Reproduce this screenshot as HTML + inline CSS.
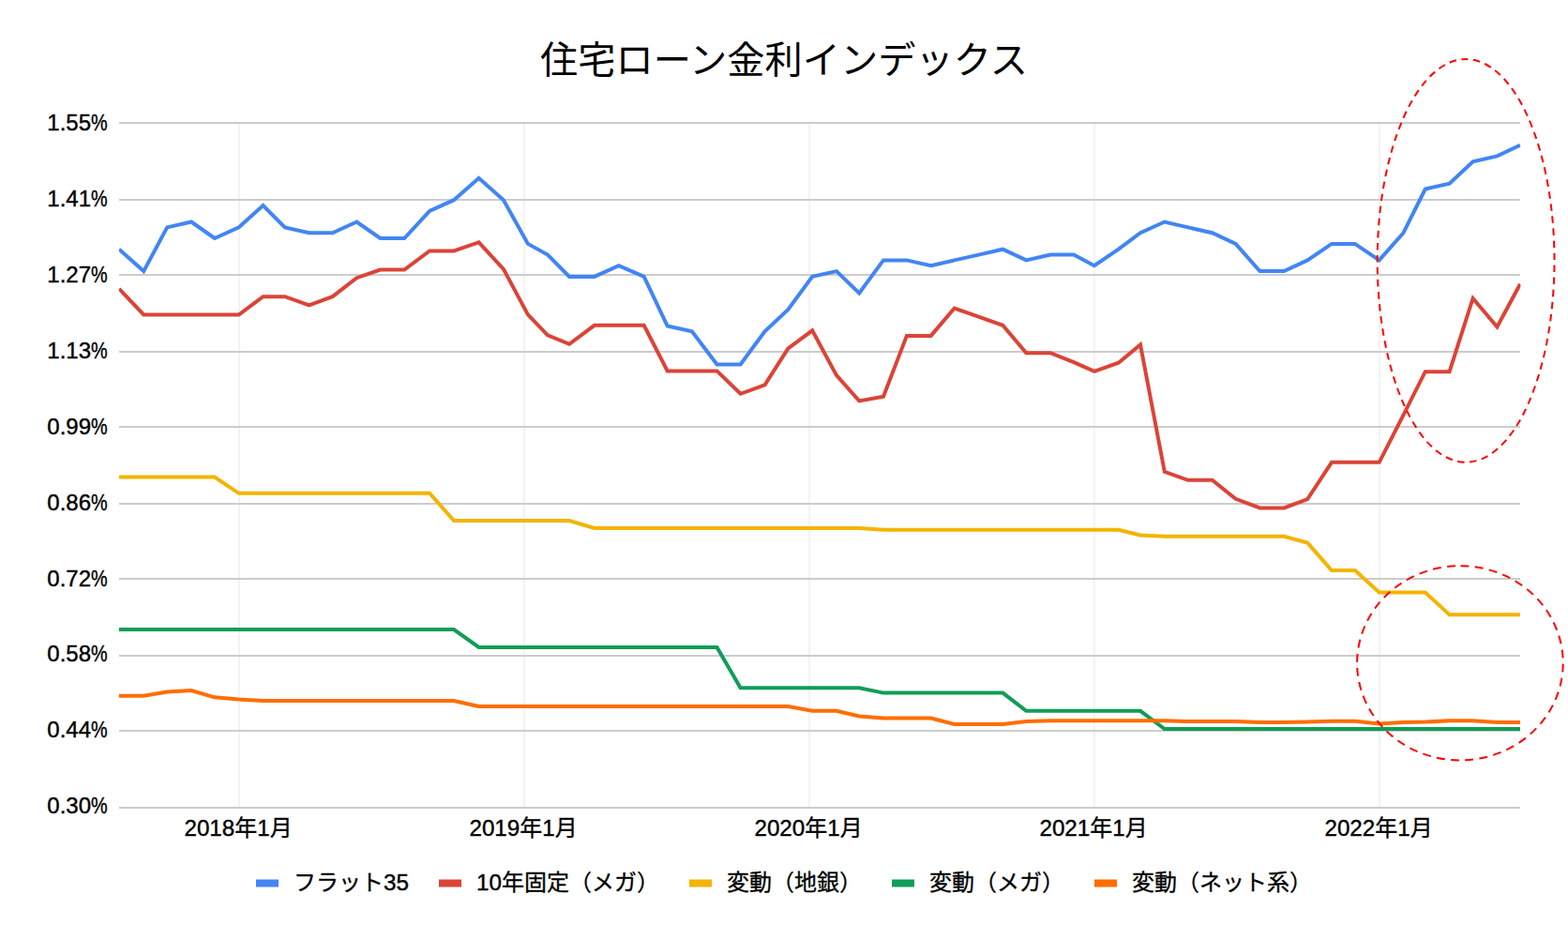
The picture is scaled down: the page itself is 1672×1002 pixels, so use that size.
<!DOCTYPE html>
<html lang="ja">
<head>
<meta charset="utf-8">
<title>住宅ローン金利インデックス</title>
<style>
html,body{margin:0;padding:0;background:#fff;}
body{width:1672px;height:1002px;overflow:hidden;font-family:"Liberation Sans",sans-serif;}
svg{display:block;}
.t{font-family:"Liberation Sans",sans-serif;font-size:24px;fill:#000;stroke:#000;stroke-width:0.4px;}
.j{font-family:"Liberation Sans","Noto Sans CJK JP",sans-serif;font-size:24px;fill:#000;stroke:#000;stroke-width:0.3px;}
.sr{position:absolute;left:0;top:0;width:1px;height:1px;overflow:hidden;clip:rect(0 0 0 0);white-space:nowrap;font-size:1px;color:transparent;}
</style>
</head>
<body>
<h1 class="sr">住宅ローン金利インデックス</h1>
<p class="sr">凡例: フラット35 / 10年固定（メガ） / 変動（地銀） / 変動（メガ） / 変動（ネット系）。 横軸: 2018年1月 – 2022年1月。</p>
<svg width="1672" height="1002" viewBox="0 0 1672 1002" role="img" aria-label="住宅ローン金利インデックス">
<defs>
<clipPath id="plot"><rect x="126.8" y="91" width="1494.6" height="810"/></clipPath>
</defs>
<rect width="1672" height="1002" fill="#ffffff"/>
<g fill="#f3f3f3">
<rect x="254" y="131" width="2" height="730"/>
<rect x="558" y="131" width="2" height="730"/>
<rect x="862" y="131" width="2" height="730"/>
<rect x="1166" y="131" width="2" height="730"/>
<rect x="1470" y="131" width="2" height="730"/>
</g>
<g fill="#cccccc">
<rect x="127" y="130" width="1494" height="2"/>
<rect x="127" y="212" width="1494" height="2"/>
<rect x="127" y="292" width="1494" height="2"/>
<rect x="127" y="374" width="1494" height="2"/>
<rect x="127" y="454" width="1494" height="2"/>
<rect x="127" y="536" width="1494" height="2"/>
<rect x="127" y="616" width="1494" height="2"/>
<rect x="127" y="698" width="1494" height="2"/>
<rect x="127" y="778" width="1494" height="2"/>
<rect x="127" y="860" width="1494" height="2"/>
</g>
<g fill="none" stroke-width="4" stroke-linejoin="miter" stroke-miterlimit="10" clip-path="url(#plot)">
<polyline stroke="#4285f4" points="127.0,265.7 153.2,289.1 178.2,242.4 204.0,236.5 228.9,254.0 254.7,242.4 280.5,219.0 303.8,242.4 329.6,248.2 354.6,248.2 380.4,236.5 405.4,254.0 431.2,254.0 458.1,224.8 484.0,213.2 510.6,189.8 536.9,213.2 562.9,259.9 584.0,271.6 607.1,294.9 633.8,294.9 659.8,283.2 686.7,294.9 711.7,347.5 737.9,353.3 764.5,388.4 789.6,388.4 815.5,353.3 840.4,330.0 866.2,294.9 892.0,289.1 916.2,312.4 942.0,277.4 966.9,277.4 992.7,283.2 1017.7,277.4 1043.5,271.6 1069.3,265.7 1094.3,277.4 1120.1,271.6 1145.0,271.6 1166.9,283.2 1192.7,265.7 1216.0,248.2 1241.8,236.5 1266.8,242.4 1292.6,248.2 1317.6,259.9 1343.4,289.1 1369.2,289.1 1394.2,277.4 1420.0,259.9 1444.9,259.9 1470.7,277.4 1496.5,248.2 1519.8,201.5 1545.6,195.6 1570.6,172.3 1596.4,166.4 1621.0,154.8"/>
<polyline stroke="#db4437" points="127.0,307.8 153.2,335.4 178.2,335.4 204.0,335.4 228.9,335.4 254.7,335.4 280.5,316.2 303.8,316.2 329.6,325.4 354.6,316.2 380.4,296.2 405.4,287.5 431.2,287.5 458.1,267.5 484.0,267.5 510.6,258.3 536.9,286.9 562.9,335.4 584.0,357.4 607.1,366.8 633.8,346.8 659.8,346.8 686.7,346.8 711.7,395.4 737.9,395.4 764.5,395.4 789.6,419.8 815.5,410.4 840.4,371.5 866.2,352.3 892.0,400.2 916.2,427.4 942.0,422.8 966.9,357.9 992.7,357.9 1017.7,328.5 1043.5,337.6 1069.3,346.8 1094.3,376.2 1120.1,376.2 1145.0,386.2 1166.9,395.8 1192.7,386.7 1216.0,367.5 1241.8,502.8 1266.8,511.8 1292.6,511.8 1317.6,531.8 1343.4,541.4 1369.2,541.4 1394.2,532.2 1420.0,492.8 1444.9,492.8 1470.7,492.8 1496.5,442.3 1519.8,396.2 1545.6,396.2 1570.6,318.0 1596.4,348.5 1621.0,302.8"/>
<polyline stroke="#f4b400" points="127.0,508.6 153.2,508.6 178.2,508.6 204.0,508.6 228.9,508.6 254.7,525.8 280.5,525.8 303.8,525.8 329.6,525.8 354.6,525.8 380.4,525.8 405.4,525.8 431.2,525.8 458.1,525.8 484.0,555.1 510.6,555.1 536.9,555.1 562.9,555.1 584.0,555.1 607.1,555.1 633.8,563.0 659.8,563.0 686.7,563.0 711.7,563.0 737.9,563.0 764.5,563.0 789.6,563.0 815.5,563.0 840.4,563.0 866.2,563.0 892.0,563.0 916.2,563.0 942.0,564.8 966.9,564.8 992.7,564.8 1017.7,564.8 1043.5,564.8 1069.3,564.8 1094.3,564.8 1120.1,564.8 1145.0,564.8 1166.9,564.8 1192.7,564.8 1216.0,570.5 1241.8,571.7 1266.8,571.7 1292.6,571.7 1317.6,571.7 1343.4,571.7 1369.2,571.7 1394.2,578.6 1420.0,608.1 1444.9,608.1 1470.7,631.5 1496.5,631.5 1519.8,631.5 1545.6,655.3 1570.6,655.3 1596.4,655.3 1621.0,655.3"/>
<polyline stroke="#0f9d58" points="127.0,671.0 153.2,671.0 178.2,671.0 204.0,671.0 228.9,671.0 254.7,671.0 280.5,671.0 303.8,671.0 329.6,671.0 354.6,671.0 380.4,671.0 405.4,671.0 431.2,671.0 458.1,671.0 484.0,671.0 510.6,689.9 536.9,689.9 562.9,689.9 584.0,689.9 607.1,689.9 633.8,689.9 659.8,689.9 686.7,689.9 711.7,689.9 737.9,689.9 764.5,689.9 789.6,733.3 815.5,733.3 840.4,733.3 866.2,733.3 892.0,733.3 916.2,733.3 942.0,738.6 966.9,738.6 992.7,738.6 1017.7,738.6 1043.5,738.6 1069.3,738.6 1094.3,757.8 1120.1,757.8 1145.0,757.8 1166.9,757.8 1192.7,757.8 1216.0,757.8 1241.8,777.1 1266.8,777.1 1292.6,777.1 1317.6,777.1 1343.4,777.1 1369.2,777.1 1394.2,777.1 1420.0,777.1 1444.9,777.1 1470.7,777.1 1496.5,777.1 1519.8,777.1 1545.6,777.1 1570.6,777.1 1596.4,777.1 1621.0,777.1"/>
<polyline stroke="#ff6d00" points="127.0,741.7 153.2,741.7 178.2,737.6 204.0,736.0 228.9,743.3 254.7,745.5 280.5,747.0 303.8,747.0 329.6,747.0 354.6,747.0 380.4,747.0 405.4,747.0 431.2,747.0 458.1,747.0 484.0,747.0 510.6,753.0 536.9,753.0 562.9,753.0 584.0,753.0 607.1,753.0 633.8,753.0 659.8,753.0 686.7,753.0 711.7,753.0 737.9,753.0 764.5,753.0 789.6,753.0 815.5,753.0 840.4,753.0 866.2,757.8 892.0,757.8 916.2,763.5 942.0,765.6 966.9,765.6 992.7,765.6 1017.7,772.1 1043.5,772.1 1069.3,772.1 1094.3,769.1 1120.1,768.2 1145.0,768.2 1166.9,768.2 1192.7,768.2 1216.0,768.2 1241.8,768.2 1266.8,769.1 1292.6,769.1 1317.6,769.1 1343.4,770.0 1369.2,770.0 1394.2,769.6 1420.0,768.7 1444.9,768.7 1470.7,771.4 1496.5,770.0 1519.8,769.6 1545.6,768.2 1570.6,768.2 1596.4,770.0 1621.0,770.0"/>
</g>
<path d="M1563.1,63.099999999999966 A94.4,214.8 0 0 1 1657.5,277.9 A94.4,214.8 0 0 1 1563.1,492.7 A94.4,214.8 0 0 1 1468.6999999999998,277.9 A94.4,214.8 0 0 1 1563.1,63.099999999999966Z" fill="none" stroke="#ff0000" stroke-width="2" stroke-dasharray="7.558 5.541" stroke-dashoffset="5.28"/>
<path d="M1556.9,603.1999999999999 A109.8,103.6 0 0 1 1666.7,706.8 A109.8,103.6 0 0 1 1556.9,810.4 A109.8,103.6 0 0 1 1447.1000000000001,706.8 A109.8,103.6 0 0 1 1556.9,603.1999999999999Z" fill="none" stroke="#ff0000" stroke-width="2" stroke-dasharray="8.885 6.355" stroke-dashoffset="14.56"/>
<g opacity="0.999">
<text class="t" text-anchor="end" x="97.0" y="139.0">1.55</text><text class="t" x="97.0" y="139.0" textLength="17.6" lengthAdjust="spacingAndGlyphs">%</text>
<text class="t" text-anchor="end" x="97.0" y="220.0">1.41</text><text class="t" x="97.0" y="220.0" textLength="17.6" lengthAdjust="spacingAndGlyphs">%</text>
<text class="t" text-anchor="end" x="97.0" y="301.0">1.27</text><text class="t" x="97.0" y="301.0" textLength="17.6" lengthAdjust="spacingAndGlyphs">%</text>
<text class="t" text-anchor="end" x="97.0" y="382.0">1.13</text><text class="t" x="97.0" y="382.0" textLength="17.6" lengthAdjust="spacingAndGlyphs">%</text>
<text class="t" text-anchor="end" x="97.0" y="463.0">0.99</text><text class="t" x="97.0" y="463.0" textLength="17.6" lengthAdjust="spacingAndGlyphs">%</text>
<text class="t" text-anchor="end" x="97.0" y="544.0">0.86</text><text class="t" x="97.0" y="544.0" textLength="17.6" lengthAdjust="spacingAndGlyphs">%</text>
<text class="t" text-anchor="end" x="97.0" y="625.0">0.72</text><text class="t" x="97.0" y="625.0" textLength="17.6" lengthAdjust="spacingAndGlyphs">%</text>
<text class="t" text-anchor="end" x="97.0" y="705.0">0.58</text><text class="t" x="97.0" y="705.0" textLength="17.6" lengthAdjust="spacingAndGlyphs">%</text>
<text class="t" text-anchor="end" x="97.0" y="786.0">0.44</text><text class="t" x="97.0" y="786.0" textLength="17.6" lengthAdjust="spacingAndGlyphs">%</text>
<text class="t" text-anchor="end" x="97.0" y="867.0">0.30</text><text class="t" x="97.0" y="867.0" textLength="17.6" lengthAdjust="spacingAndGlyphs">%</text>
<text class="t" x="196.47" y="890.7" textLength="53.8" lengthAdjust="spacingAndGlyphs">2018</text>
<text class="j" x="250.27" y="891.2">年</text>
<text class="t" x="274.27" y="890.7" textLength="13.4" lengthAdjust="spacingAndGlyphs">1</text>
<text class="j" x="287.72" y="891.2">月</text>
<text class="t" x="500.48" y="890.7" textLength="53.8" lengthAdjust="spacingAndGlyphs">2019</text>
<text class="j" x="554.27" y="891.2">年</text>
<text class="t" x="578.27" y="890.7" textLength="13.4" lengthAdjust="spacingAndGlyphs">1</text>
<text class="j" x="591.73" y="891.2">月</text>
<text class="t" x="804.48" y="890.7" textLength="53.8" lengthAdjust="spacingAndGlyphs">2020</text>
<text class="j" x="858.27" y="891.2">年</text>
<text class="t" x="882.27" y="890.7" textLength="13.4" lengthAdjust="spacingAndGlyphs">1</text>
<text class="j" x="895.73" y="891.2">月</text>
<text class="t" x="1108.47" y="890.7" textLength="53.8" lengthAdjust="spacingAndGlyphs">2021</text>
<text class="j" x="1162.27" y="891.2">年</text>
<text class="t" x="1186.27" y="890.7" textLength="13.4" lengthAdjust="spacingAndGlyphs">1</text>
<text class="j" x="1199.72" y="891.2">月</text>
<text class="t" x="1412.47" y="890.7" textLength="53.8" lengthAdjust="spacingAndGlyphs">2022</text>
<text class="j" x="1466.27" y="891.2">年</text>
<text class="t" x="1490.27" y="890.7" textLength="13.4" lengthAdjust="spacingAndGlyphs">1</text>
<text class="j" x="1503.72" y="891.2">月</text>
<text x="576.1" y="78" font-size="40" fill="#000" font-family="&quot;Liberation Sans&quot;,&quot;Noto Sans CJK JP&quot;,sans-serif" textLength="520" lengthAdjust="spacingAndGlyphs">住宅ローン金利インデックス</text>
<rect x="273" y="937.5" width="24" height="8" fill="#4285f4"/>
<text class="j" x="313" y="949" textLength="96" lengthAdjust="spacingAndGlyphs">フラット</text>
<text class="t" x="409.00" y="948.6" textLength="26.9" lengthAdjust="spacingAndGlyphs">35</text>
<rect x="468" y="937.5" width="24" height="8" fill="#db4437"/>
<text class="t" x="508.00" y="948.6" textLength="26.9" lengthAdjust="spacingAndGlyphs">10</text>
<text class="j" x="534.9" y="949" textLength="168" lengthAdjust="spacingAndGlyphs">年固定（メガ）</text>
<rect x="735" y="937.5" width="24" height="8" fill="#f4b400"/>
<text class="j" x="775" y="949" textLength="144" lengthAdjust="spacingAndGlyphs">変動（地銀）</text>
<rect x="951" y="937.5" width="24" height="8" fill="#0f9d58"/>
<text class="j" x="991" y="949" textLength="144" lengthAdjust="spacingAndGlyphs">変動（メガ）</text>
<rect x="1167" y="937.5" width="24" height="8" fill="#ff6d00"/>
<text class="j" x="1207" y="949" textLength="192" lengthAdjust="spacingAndGlyphs">変動（ネット系）</text>
</g>
</svg>
</body>
</html>
